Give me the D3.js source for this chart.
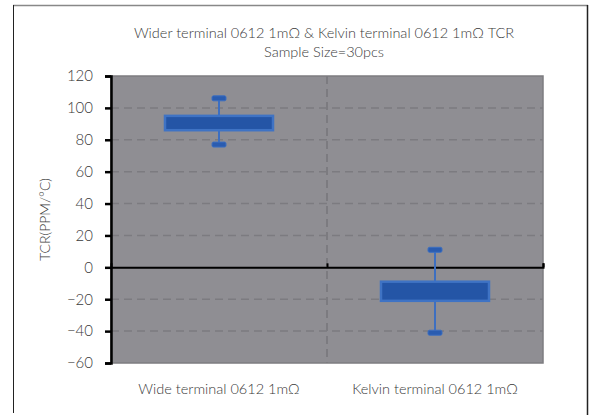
<!DOCTYPE html>
<html>
<head>
<meta charset="utf-8">
<script src="https://cdn.jsdelivr.net/npm/d3@7"></script>
<style>
  body { margin: 0; background: #fff; }
  text { font-family: "Lato", "Open Sans", sans-serif; fill: #3a3a3a; font-weight: 300; }
</style>
</head>
<body>
<div id="chart"></div>
<script>
var categories = ["Wide terminal 0612  1m\u03A9", "Kelvin terminal 0612  1m\u03A9"]
var boxLow = [86, -21]
var boxHigh = [95, -9]
var whiskerLow = [77, -41]
var whiskerHigh = [106, 11]
var yTicks = [-60, -40, -20, 0, 20, 40, 60, 80, 100, 120]

var W = 589, H = 415
var margin = { left: 111, right: 46, top: 76, bottom: 52 }
var width = W - margin.left - margin.right,
    height = H - margin.top - margin.bottom

var rows = categories.map(function(c, i){
    return { cat: c, lo: boxLow[i], hi: boxHigh[i], wlo: whiskerLow[i], whi: whiskerHigh[i] }
})

var svg = d3.select("#chart").append("svg")
    .attr("width", W)
    .attr("height", H)

// outer frame
svg.append("line").attr("x1", 13).attr("x2", 588).attr("y1", 5.5).attr("y2", 5.5)
    .attr("stroke", "#888").attr("stroke-width", 1.5)
svg.append("line").attr("x1", 13.5).attr("x2", 13.5).attr("y1", 5).attr("y2", 413)
    .attr("stroke", "#222").attr("stroke-width", 1)
svg.append("line").attr("x1", 587.5).attr("x2", 587.5).attr("y1", 5).attr("y2", 415)
    .attr("stroke", "#222").attr("stroke-width", 1.5)

svg.append("text").attr("x", 324).attr("y", 38).attr("text-anchor", "middle")
    .attr("font-size", 14.5).text("Wider terminal 0612  1m\u03A9 & Kelvin terminal 0612  1m\u03A9 TCR")
svg.append("text").attr("x", 324).attr("y", 57).attr("text-anchor", "middle")
    .attr("font-size", 14.5).text("Sample Size=30pcs")

var g = svg.append("g").attr("transform", "translate(" + margin.left + "," + margin.top + ")")

var x = d3.scaleBand().domain(categories).range([0, width]).padding(0)
var y = d3.scaleLinear().domain([-60, 120]).range([height, 0])

// plot background
g.append("rect").attr("x", 0).attr("y", 0).attr("width", width).attr("height", height)
    .attr("fill", "#8f8e93").attr("stroke", "#7d7c80").attr("stroke-width", 1.5)

// grid
g.selectAll(".grid").data(yTicks.filter(function(d){ return d != 0 && d != 120 && d != -60 }))
    .enter().append("line")
    .attr("x1", 0).attr("x2", width)
    .attr("y1", function(d){ return y(d) }).attr("y2", function(d){ return y(d) })
    .attr("stroke", "#7c7b80").attr("stroke-width", 1.5).attr("stroke-dasharray", "8,5")

g.append("line").attr("x1", x.bandwidth()).attr("x2", x.bandwidth())
    .attr("y1", 0).attr("y2", height)
    .attr("stroke", "#7c7b80").attr("stroke-width", 2).attr("stroke-dasharray", "8,5")

// y axis
var yAxis = g.append("g").call(d3.axisLeft(y).tickValues(yTicks).tickSize(6).tickSizeOuter(6).tickPadding(12))
yAxis.select(".domain").attr("stroke", "#000").attr("stroke-width", 2.5)
yAxis.selectAll(".tick line").attr("stroke", "#000").attr("stroke-width", 2.5)
yAxis.selectAll(".tick text").attr("font-size", 15).attr("fill", "#3a3a3a")
    .style("font-family", "Lato, sans-serif").style("font-weight", 300)

// zero line with category ticks
var xAxis = g.append("g").attr("transform", "translate(0," + y(0) + ")")
    .call(d3.axisTop(d3.scaleLinear().domain([0, 2]).range([0, width])).tickValues([1, 2]).tickSize(4).tickFormat(""))
xAxis.select(".domain").attr("stroke", "#000").attr("stroke-width", 2)
xAxis.selectAll(".tick line").attr("stroke", "#000").attr("stroke-width", 2)

// boxes
var box = g.selectAll(".box").data(rows).enter().append("g").attr("class", "box")
var cx = function(d){ return x(d.cat) + x.bandwidth() / 2 }
var bw = x.bandwidth() * 0.5

box.append("line")
    .attr("x1", cx).attr("x2", cx)
    .attr("y1", function(d){ return y(d.whi) }).attr("y2", function(d){ return y(d.wlo) })
    .attr("stroke", "#3d6fc1").attr("stroke-width", 2)

box.selectAll(".cap").data(function(d){ return [{ c: cx(d), v: d.whi }, { c: cx(d), v: d.wlo }] })
    .enter().append("rect")
    .attr("x", function(d){ return d.c - 7 }).attr("y", function(d){ return y(d.v) - 2.5 })
    .attr("width", 14).attr("height", 5).attr("rx", 1.5)
    .attr("fill", "#2a5cb0").attr("stroke", "#3d6fc1").attr("stroke-width", 1)

box.append("rect")
    .attr("x", function(d){ return cx(d) - bw / 2 })
    .attr("y", function(d){ return y(d.hi) })
    .attr("width", bw)
    .attr("height", function(d){ return y(d.lo) - y(d.hi) })
    .attr("fill", "#2455a6").attr("stroke", "#3f73c4").attr("stroke-width", 2.5)

// category labels
g.selectAll(".cat").data(categories).enter().append("text")
    .attr("x", function(d){ return x(d) + x.bandwidth() / 2 })
    .attr("y", height + 31).attr("text-anchor", "middle").attr("font-size", 14.5)
    .text(function(d){ return d })

svg.append("text").attr("transform", "translate(50," + (margin.top + height / 2) + ") rotate(-90)")
    .attr("text-anchor", "middle").attr("font-size", 14).text("TCR(PPM/\u00B0C)")
</script>
</body>
</html>
